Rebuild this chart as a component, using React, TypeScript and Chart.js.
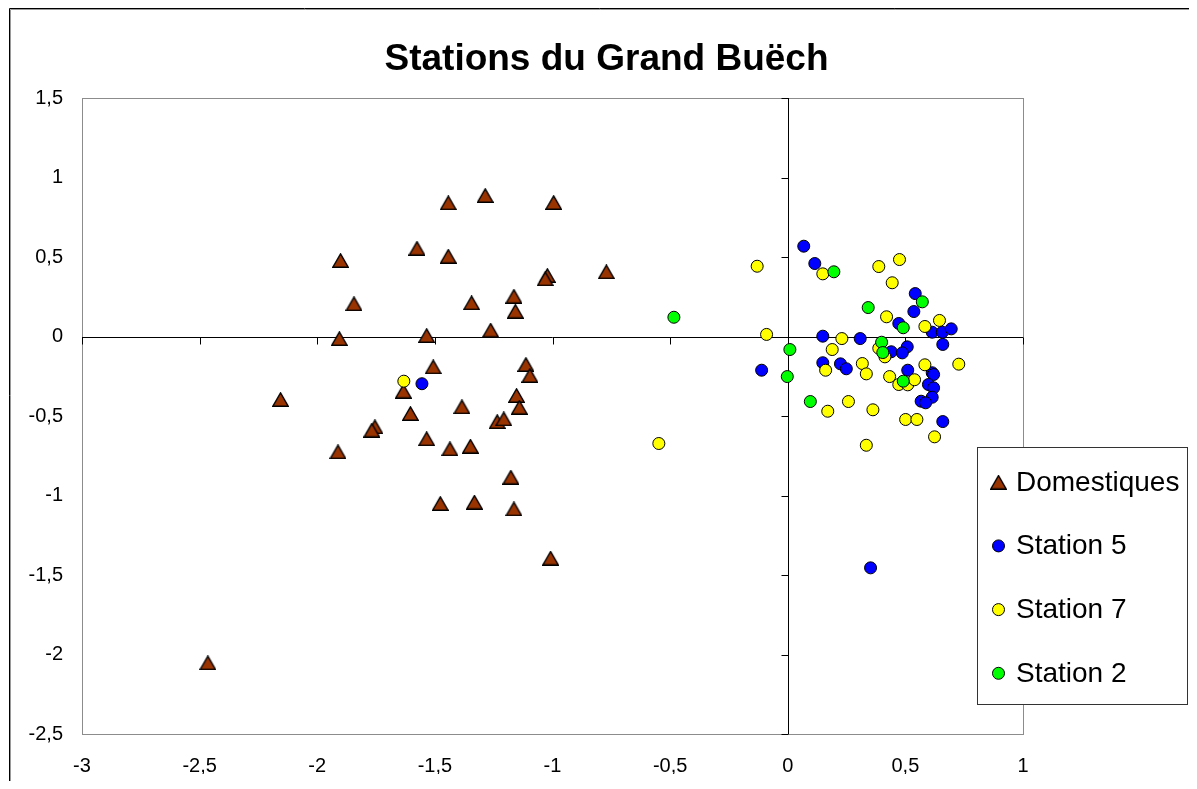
import React, { useEffect, useRef } from "react";
import { Chart, registerables } from "chart.js";

Chart.register(...registerables);

const TITLE = "Stations du Grand Buëch";
const SERIES_NAMES = ["Domestiques", "Station 5", "Station 7", "Station 2"];
const SERIES_COLORS = ["#993300", "#0000FF", "#FFFF00", "#00FF00"];

const X_MIN = -3;
const X_MAX = 1;
const Y_MIN = -2.5;
const Y_MAX = 1.5;
const TICK_STEP = 0.5;

const DOM_X = [-1.286, -1.443, -0.995, -1.576, -1.443, -1.901, -0.771, -1.022, -1.031, -1.844, -1.344, -1.164, -1.158, -1.263, -1.535, -1.906, -1.113, -1.096, -1.507, -1.634, -2.156, -1.153, -1.141, -1.385, -1.604, -1.755, -1.768, -1.235, -1.207, -1.535, -1.349, -1.436, -1.912, -1.177, -1.477, -1.332, -1.164, -1.008, -2.465];
const DOM_Y = [0.887, 0.841, 0.843, 0.555, 0.505, 0.478, 0.407, 0.384, 0.363, 0.206, 0.212, 0.253, 0.159, 0.040, 0.006, -0.013, -0.176, -0.245, -0.191, -0.344, -0.396, -0.371, -0.445, -0.442, -0.484, -0.568, -0.589, -0.535, -0.518, -0.643, -0.690, -0.706, -0.725, -0.885, -1.050, -1.042, -1.084, -1.394, -2.052];

const S5_X = [0.068, 0.115, 0.542, 0.536, 0.472, 0.614, 0.657, 0.695, 0.149, 0.308, 0.659, 0.440, 0.508, 0.487, -0.111, 0.149, 0.224, 0.249, 0.510, 0.614, 0.620, 0.598, 0.620, 0.614, 0.567, 0.586, 0.659, -1.555, 0.352];
const S5_Y = [0.568, 0.459, 0.270, 0.157, 0.082, 0.027, 0.027, 0.048, 0.002, -0.013, -0.050, -0.096, -0.065, -0.103, -0.212, -0.165, -0.172, -0.203, -0.212, -0.228, -0.239, -0.302, -0.323, -0.382, -0.407, -0.417, -0.535, -0.297, -1.455];

const S7_X = [-0.130, 0.475, 0.387, 0.149, 0.444, 0.420, 0.645, 0.583, -0.090, 0.230, 0.189, 0.387, 0.413, 0.161, 0.317, 0.334, 0.583, 0.727, 0.433, 0.472, 0.510, 0.539, 0.258, 0.170, 0.362, 0.501, 0.549, 0.624, 0.334, -1.632, -0.548];
const S7_Y = [0.442, 0.484, 0.440, 0.394, 0.338, 0.124, 0.101, 0.063, 0.013, -0.013, -0.082, -0.074, -0.128, -0.212, -0.170, -0.235, -0.178, -0.174, -0.252, -0.302, -0.304, -0.272, -0.409, -0.470, -0.461, -0.522, -0.522, -0.631, -0.684, -0.281, -0.673];

const S2_X = [0.196, 0.572, 0.342, 0.491, 0.009, 0.399, 0.404, -0.002, 0.491, 0.096, -0.484];
const S2_Y = [0.407, 0.218, 0.182, 0.055, -0.082, -0.036, -0.101, -0.252, -0.281, -0.409, 0.121];

const FONT = '"Liberation Sans", Arial, Helvetica, sans-serif';

function toPoints(xs: number[], ys: number[]) {
  return xs.map((x, i) => ({ x, y: ys[i] }));
}

function makeTriangle(fill: string): HTMLCanvasElement {
  const c = document.createElement("canvas");
  c.width = 17;
  c.height = 15;
  const g = c.getContext("2d")!;
  g.beginPath();
  g.moveTo(8.5, 0.9);
  g.lineTo(16.2, 14.2);
  g.lineTo(0.8, 14.2);
  g.closePath();
  g.fillStyle = fill;
  g.fill();
  g.lineWidth = 1.4;
  g.strokeStyle = "#000000";
  g.lineJoin = "miter";
  g.stroke();
  return c;
}

const fmt = (v: number) => String(Math.round(v * 10) / 10).replace(".", ",");

export default function App() {
  const ref = useRef<HTMLCanvasElement>(null);

  useEffect(() => {
    if (!ref.current) return;
    const tri = makeTriangle(SERIES_COLORS[0]);

    const frame = {
      id: "frame",
      beforeDatasetsDraw(chart: any) {
        const { ctx, chartArea: a, scales } = chart;
        ctx.save();
        // outer chart border (left/top visible)
        ctx.strokeStyle = "#000000";
        ctx.lineWidth = 1;
        ctx.beginPath();
        ctx.moveTo(1.5, chart.height + 10);
        ctx.lineTo(1.5, 0.5);
        ctx.lineTo(chart.width + 10, 0.5);
        ctx.stroke();
        ctx.strokeStyle = "#9a9a9a";
        ctx.beginPath();
        ctx.moveTo(2.5, chart.height + 10);
        ctx.lineTo(2.5, 1.5);
        ctx.lineTo(chart.width + 10, 1.5);
        ctx.stroke();
        // plot area border
        ctx.strokeStyle = "#8c8c8c";
        ctx.lineWidth = 1;
        ctx.strokeRect(Math.round(a.left) + 0.5, Math.round(a.top) + 0.5, Math.round(a.right - a.left), Math.round(a.bottom - a.top));
        // axes crossing at zero
        const x0 = Math.round(scales.x.getPixelForValue(0)) + 0.5;
        const y0 = Math.round(scales.y.getPixelForValue(0)) + 0.5;
        ctx.strokeStyle = "#000000";
        ctx.beginPath();
        ctx.moveTo(a.left, y0);
        ctx.lineTo(a.right, y0);
        ctx.moveTo(x0, a.top);
        ctx.lineTo(x0, a.bottom);
        for (const t of scales.x.ticks) {
          const px = Math.round(scales.x.getPixelForValue(t.value)) + 0.5;
          ctx.moveTo(px, y0);
          ctx.lineTo(px, y0 + 7);
        }
        for (const t of scales.y.ticks) {
          const py = Math.round(scales.y.getPixelForValue(t.value)) + 0.5;
          ctx.moveTo(x0, py);
          ctx.lineTo(x0 - 7, py);
        }
        ctx.stroke();
        // title
        ctx.fillStyle = "#000000";
        ctx.font = `bold 37px ${FONT}`;
        ctx.textAlign = "center";
        ctx.textBaseline = "alphabetic";
        ctx.fillText(TITLE, 598.5, 62);
        ctx.restore();
      },
      afterDatasetsDraw(chart: any) {
        const { ctx } = chart;
        ctx.save();
        const bx = 969.5, by = 439.5, bw = 210, bh = 257;
        ctx.fillStyle = "#ffffff";
        ctx.fillRect(bx, by, bw, bh);
        ctx.strokeStyle = "#333333";
        ctx.lineWidth = 1;
        ctx.strokeRect(bx, by, bw, bh);
        ctx.font = `28px ${FONT}`;
        ctx.textAlign = "left";
        ctx.textBaseline = "alphabetic";
        chart.data.datasets.forEach((ds: any, i: number) => {
          const base = 482.7 + 63.7 * i;
          const my = base - 8.5;
          const mx = 990.5;
          if (ds.pointStyle && typeof ds.pointStyle !== "string") {
            ctx.drawImage(ds.pointStyle, mx - ds.pointStyle.width / 2, my - ds.pointStyle.height / 2);
          } else {
            ctx.beginPath();
            ctx.arc(mx, my, 6, 0, Math.PI * 2);
            ctx.fillStyle = ds.backgroundColor;
            ctx.fill();
            ctx.strokeStyle = "#000000";
            ctx.lineWidth = 1;
            ctx.stroke();
          }
          ctx.fillStyle = "#000000";
          ctx.fillText(ds.label, 1008, base);
        });
        ctx.restore();
      },
    };

    const circle = (i: number) => ({
      pointStyle: "circle",
      pointRadius: 6,
      pointHoverRadius: 6,
      borderWidth: 1,
      borderColor: "#000000",
      backgroundColor: SERIES_COLORS[i],
      pointBackgroundColor: SERIES_COLORS[i],
      pointBorderColor: "#000000",
      showLine: false,
    });

    const chart = new Chart(ref.current, {
      type: "scatter",
      data: {
        datasets: [
          {
            label: SERIES_NAMES[0],
            data: toPoints(DOM_X, DOM_Y),
            pointStyle: tri as any,
            backgroundColor: SERIES_COLORS[0],
            borderColor: "#000000",
            showLine: false,
            order: 4,
          },
          { label: SERIES_NAMES[1], data: toPoints(S5_X, S5_Y), ...circle(1), order: 3 } as any,
          { label: SERIES_NAMES[2], data: toPoints(S7_X, S7_Y), ...circle(2), order: 2 } as any,
          { label: SERIES_NAMES[3], data: toPoints(S2_X, S2_Y), ...circle(3), order: 1 } as any,
        ],
      },
      options: {
        animation: false,
        responsive: false,
        maintainAspectRatio: false,
        events: [],
        layout: { padding: { top: 90, left: 0, right: 166, bottom: 7 } },
        plugins: { legend: { display: false }, title: { display: false }, tooltip: { enabled: false } },
        scales: {
          x: {
            type: "linear",
            min: X_MIN,
            max: X_MAX,
            grid: { display: false, drawTicks: false },
            border: { display: false },
            ticks: {
              stepSize: TICK_STEP,
              padding: 20,
              color: "#000000",
              font: { family: FONT, size: 20 },
              callback: (v: any) => fmt(Number(v)),
            },
            afterFit: (s: any) => { s.height = 40; },
          },
          y: {
            type: "linear",
            min: Y_MIN,
            max: Y_MAX,
            grid: { display: false, drawTicks: false },
            border: { display: false },
            ticks: {
              stepSize: TICK_STEP,
              padding: 19,
              color: "#000000",
              font: { family: FONT, size: 20 },
              callback: (v: any) => fmt(Number(v)),
            },
            afterFit: (s: any) => { s.width = 74; },
          },
        },
      },
      plugins: [frame],
    } as any);

    return () => chart.destroy();
  }, []);

  return (
    <div style={{ width: 1181, height: 773, position: "relative" }}>
      <canvas ref={ref} width={1181} height={773} style={{ display: "block", width: 1181, height: 773 }} />
    </div>
  );
}
